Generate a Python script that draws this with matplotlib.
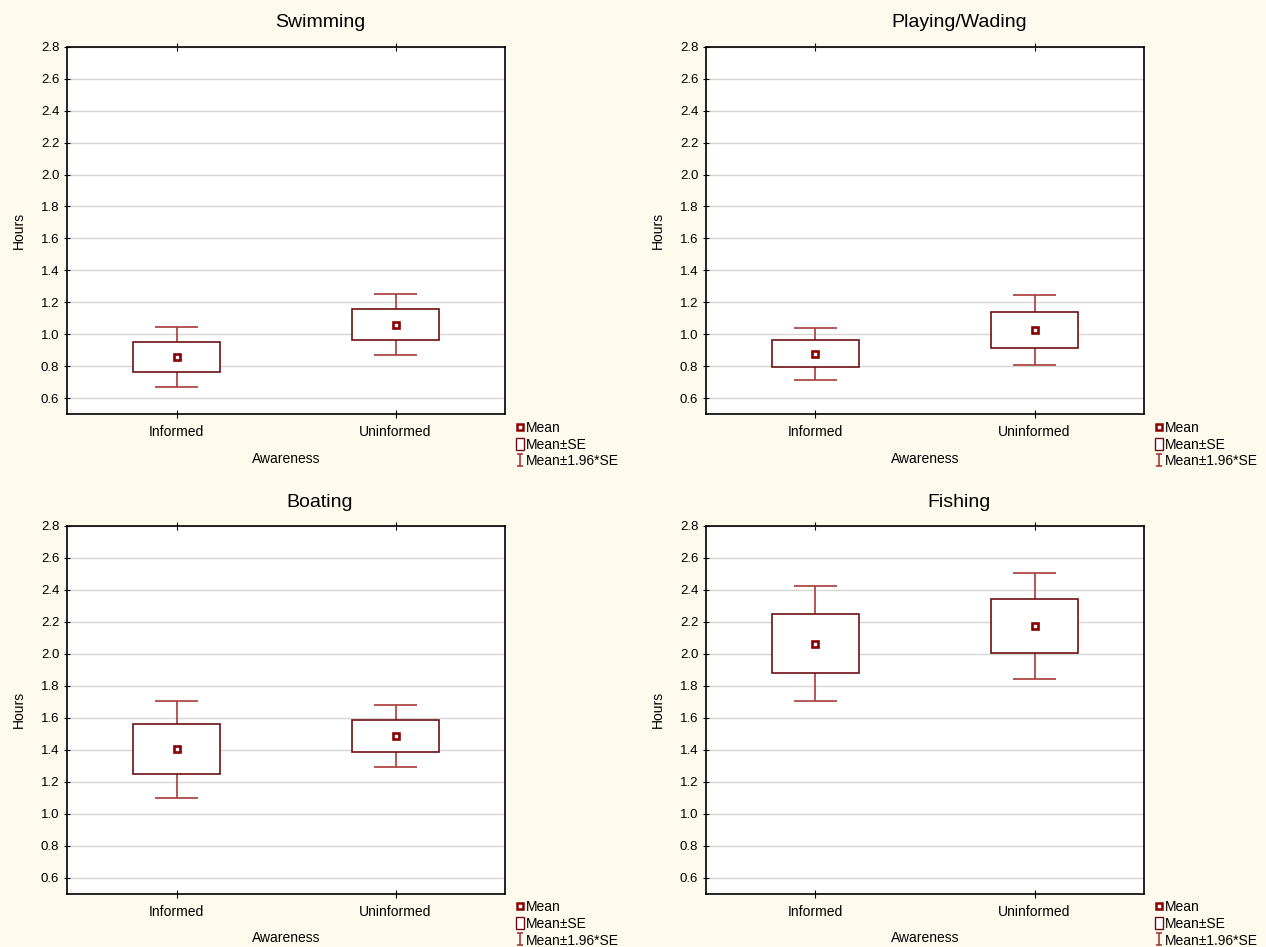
import matplotlib.pyplot as plt
import numpy as np
from matplotlib.path import Path
from matplotlib.lines import Line2D
from matplotlib.patches import Patch

plt.rcParams['font.family'] = ['Liberation Sans', 'DejaVu Sans']

groups = ['Informed', 'Uninformed']
titles = ['Swimming', 'Playing/Wading', 'Boating', 'Fishing']

# mean hours and standard error per awareness group
swim_mean = [0.858, 1.060]
swim_se = [0.096, 0.097]
wade_mean = [0.879, 1.027]
wade_se = [0.083, 0.112]
boat_mean = [1.403, 1.485]
boat_se = [0.155, 0.100]
fish_mean = [2.064, 2.173]
fish_se = [0.183, 0.170]

yticks = [0.6, 0.8, 1.0, 1.2, 1.4, 1.6, 1.8, 2.0, 2.2, 2.4, 2.6, 2.8]

bg = '#fffaee'
box_col = '#6e0f0f'
wh_col = '#a83a3a'
mean_col = '#8b0000'

W, H = 1266, 947
fig = plt.figure(figsize=(W / 100, H / 100), dpi=100, facecolor=bg)

# axes boxes in pixels: left, top
panels = [(67, 46.7), (706, 46.7), (67, 526), (706, 526)]
title_x = [320, 959, 320, 959]
aw, ah = 438, 367.5

# I-beam marker for the legend
ibeam = Path([(-0.5, 1), (0.5, 1), (0, 1), (0, -1), (-0.5, -1), (0.5, -1)],
             [Path.MOVETO, Path.LINETO, Path.MOVETO, Path.LINETO, Path.MOVETO, Path.LINETO])

data = [(swim_mean, swim_se), (wade_mean, wade_se), (boat_mean, boat_se), (fish_mean, fish_se)]

for i, (m, s) in enumerate(data):
    left, top = panels[i]
    ax = fig.add_axes([left / W, 1 - (top + ah) / H, aw / W, ah / H])
    ax.set_facecolor('white')
    m = np.array(m)
    s = np.array(s)
    x = np.arange(len(groups))
    lo, hi = m - 1.96 * s, m + 1.96 * s

    ax.vlines(x, lo, m - s, color=wh_col, lw=1.2, zorder=2)
    ax.vlines(x, m + s, hi, color=wh_col, lw=1.2, zorder=2)
    ax.hlines(lo, x - 0.1, x + 0.1, color=wh_col, lw=1.2, zorder=2)
    ax.hlines(hi, x - 0.1, x + 0.1, color=wh_col, lw=1.2, zorder=2)
    ax.bar(x, 2 * s, bottom=m - s, width=0.4, facecolor='white',
           edgecolor=box_col, lw=1.2, zorder=3)
    ax.plot(x, m, 's', ms=4, mfc='white', mec=mean_col, mew=1.9, zorder=4)

    ax.set_xlim(-0.5, 1.5)
    ax.set_ylim(0.5, 2.8)
    ax.set_xticks(x)
    ax.set_xticklabels(groups, fontsize=10)
    ax.set_yticks(yticks)
    ax.set_yticklabels(['%.1f' % v for v in yticks], fontsize=9.5)
    ax.yaxis.grid(True, color='#d6d6d6', lw=1)
    ax.set_axisbelow(True)
    ax.tick_params(axis='y', direction='inout', length=5, pad=3, width=0.8)
    ax.tick_params(axis='x', direction='inout', length=6, pad=5, width=0.8, top=True)
    for sp in ax.spines.values():
        sp.set_linewidth(1.2)
        sp.set_color('black')
    ax.set_xlabel('Awareness', fontsize=10, labelpad=9)
    ax.set_ylabel('Hours', fontsize=10, labelpad=11)

    fig.text(title_x[i] / W, 1 - (top - 24) / H, titles[i], fontsize=14,
             ha='center', va='center')

    handles = [
        Line2D([], [], ls='none', marker='s', ms=4, mfc='white', mec=mean_col, mew=1.8),
        Patch(facecolor='white', edgecolor=box_col, lw=1),
        Line2D([], [], ls='none', marker=ibeam, ms=9, mec=wh_col, mew=1.2),
    ]
    ax.legend(handles, ['Mean', 'Mean\u00b1SE', 'Mean\u00b11.96*SE'],
              loc='upper left', bbox_to_anchor=(1.025, -0.018), frameon=False,
              fontsize=10, handlelength=0.6, handleheight=0.9, handletextpad=0.15,
              labelspacing=0.2, borderpad=0, borderaxespad=0)

fig.savefig('out.png', dpi=100, facecolor=bg)
